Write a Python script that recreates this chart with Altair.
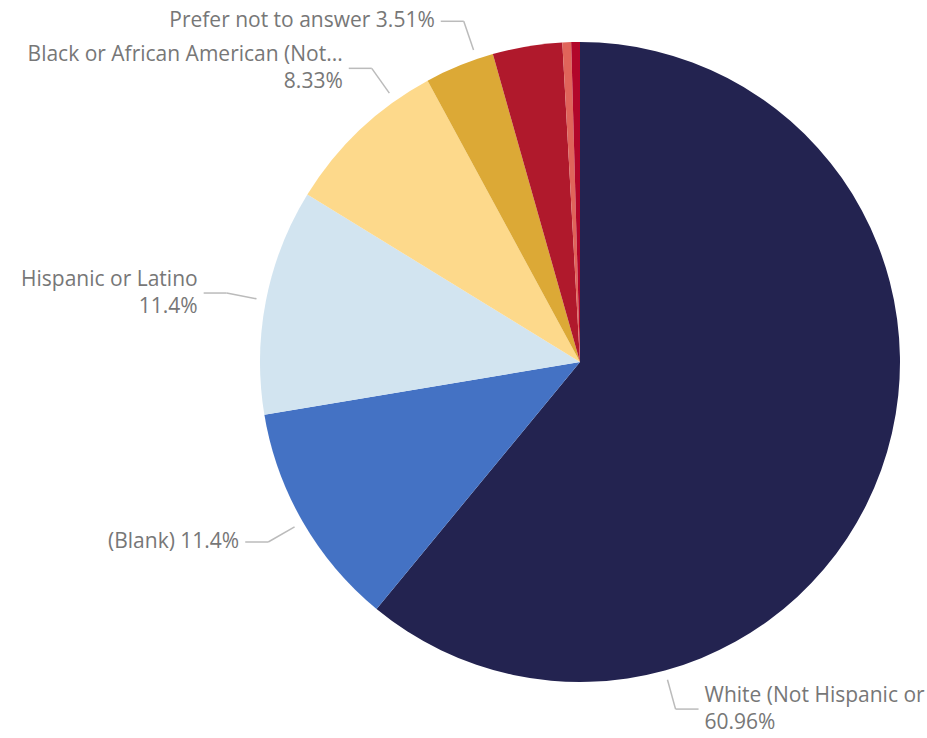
import altair as alt
import pandas as pd

# ---- data ----
categories = [
    "White (Not Hispanic or Latino)",
    "(Blank)",
    "Hispanic or Latino",
    "Black or African American (Not Hispanic or Latino)",
    "Prefer not to answer",
    "Asian (Not Hispanic or Latino)",
    "Two or More Races",
    "American Indian or Alaska Native",
]
percents = [60.96, 11.4, 11.4, 8.33, 3.51, 3.51, 0.44, 0.44]
label_line1 = [
    "White (Not Hispanic or Latino)",
    "(Blank) 11.4%",
    "Hispanic or Latino",
    "Black or African American (Not...",
    "Prefer not to answer 3.51%",
    "", "", "",
]
label_line2 = ["60.96%", "", "11.4%", "8.33%", "", "", "", ""]

# ---- styling / layout ----
colors = ["#232350", "#4472C4", "#D2E4F0", "#FDD98B", "#DCA936", "#B0192C", "#E0645A", "#B2062A"]
label_anchor = [0.75, 0.5, 0.5, 0.77, 0.76, 0.5, 0.5, 0.5]  # where along each slice the leader starts

R = 320
LH = 27
df = pd.DataFrame({
    "category": categories,
    "percent": percents,
    "order": list(range(len(categories))),
    "line1": label_line1,
    "line2": label_line2,
    "anchor": label_anchor,
})

xs = alt.Scale(domain=[-1, 1], nice=False, zero=False)
ys = alt.Scale(domain=[-1, 1], nice=False, zero=False)

pie = alt.Chart(df).mark_arc(outerRadius=R).encode(
    theta=alt.Theta("percent:Q", stack=True),
    order=alt.Order("order:Q", sort="ascending"),
    color=alt.Color("category:N", scale=alt.Scale(domain=categories, range=colors), legend=None),
)

base = (
    alt.Chart(df)
    .transform_joinaggregate(total="sum(percent)")
    .transform_window(cum="sum(percent)", sort=[alt.SortField("order", order="ascending")], frame=[None, 0])
    .transform_calculate(
        ang="2*PI*(datum.cum - datum.percent + datum.anchor*datum.percent)/datum.total",
    )
    .transform_calculate(
        x1="1.03*sin(datum.ang)", y1="1.03*cos(datum.ang)",
        x2="1.125*sin(datum.ang)", y2="1.125*cos(datum.ang)",
        side="sin(datum.ang) >= 0 ? 1 : -1",
    )
    .transform_calculate(
        x3=f"datum.x2 + datum.side*23/{R}",
        xt=f"datum.x2 + datum.side*29/{R}",
        lines="datum.line2 ? [datum.line1, datum.line2] : [datum.line1]",
    )
    .transform_calculate(
        yt=f"datum.y2 + (length(datum.lines) - 1)*{LH / 2}/{R}",
    )
    .transform_filter("datum.line1 != ''")
)

lead1 = base.mark_rule(color="#BBBBBB", strokeWidth=1.5).encode(
    x=alt.X("x1:Q", scale=xs, axis=None),
    y=alt.Y("y1:Q", scale=ys, axis=None),
    x2="x2:Q", y2="y2:Q",
)
lead2 = base.mark_rule(color="#BBBBBB", strokeWidth=1.5).encode(
    x=alt.X("x2:Q", scale=xs, axis=None),
    y=alt.Y("y2:Q", scale=ys, axis=None),
    x2="x3:Q", y2="y2:Q",
)

text_props = dict(baseline="middle", font="Open Sans", fontSize=21, color="#777777", lineHeight=LH)
txt_right = base.transform_filter("datum.side > 0").mark_text(align="left", **text_props).encode(
    x=alt.X("xt:Q", scale=xs, axis=None),
    y=alt.Y("yt:Q", scale=ys, axis=None),
    text=alt.Text("lines:N"),
)
txt_left = base.transform_filter("datum.side < 0").mark_text(align="right", **text_props).encode(
    x=alt.X("xt:Q", scale=xs, axis=None),
    y=alt.Y("yt:Q", scale=ys, axis=None),
    text=alt.Text("lines:N"),
)

chart = (
    alt.layer(pie, lead1, lead2, txt_right, txt_left)
    .properties(
        width=2 * R, height=2 * R,
        autosize=alt.AutoSizeParams(type="none"),
        padding={"left": 260, "top": 42, "right": 27, "bottom": 56},
        background="white",
    )
    .configure_view(stroke=None)
)

chart.save("out.html", embed_options={"renderer": "svg", "actions": False})
